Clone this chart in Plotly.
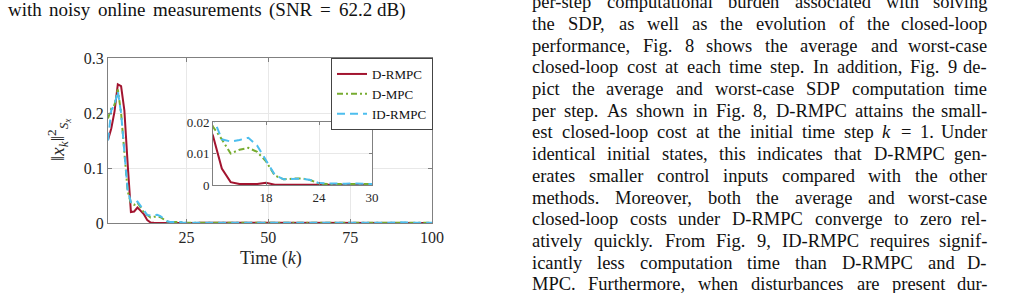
import re
import plotly.graph_objects as go

W, H = 1017, 293

# ---------------- data ----------------
time_k = list(range(1, 101))

d_rmpc = [0.151, 0.172, 0.203, 0.252, 0.249, 0.205, 0.108, 0.020, 0.021, 0.028,
          0.022, 0.0156, 0.0052, 0.0009, 0.0003, 0.0002, 0.0003, 0.0007, 0.0001, 0.0001,
          0.0001, 0.0001, 0.0002, 0.0003, 0.0003, 0.0002, 0.0002, 0.0002, 0.0003, 0.0003,
          0.0003, 0.0002, 0.0003, 0.0002, 0.0002, 0.0003, 0.0002, 0.0002, 0.0003, 0.0002,
          0.0002, 0.0003, 0.0002, 0.0002, 0.0002, 0.0003, 0.0002, 0.0002, 0.0003, 0.0002,
          0.0002, 0.0002, 0.0003, 0.0002, 0.0002, 0.0003, 0.0002, 0.0002, 0.0002, 0.0003,
          0.0002, 0.0002, 0.0003, 0.0002, 0.0002, 0.0002, 0.0003, 0.0002, 0.0002, 0.0003,
          0.0002, 0.0002, 0.0002, 0.0003, 0.0002, 0.0002, 0.0003, 0.0002, 0.0002, 0.0002,
          0.0003, 0.0002, 0.0002, 0.0003, 0.0002, 0.0002, 0.0002, 0.0003, 0.0002, 0.0002,
          0.0003, 0.0002, 0.0002, 0.0002, 0.0003, 0.0002, 0.0002, 0.0003, 0.0002, 0.0002]

d_mpc = [0.190, 0.208, 0.215, 0.243, 0.200, 0.130, 0.058, 0.036, 0.033, 0.037,
         0.028, 0.0185, 0.0145, 0.0100, 0.0112, 0.0118, 0.0105, 0.0075, 0.0030, 0.0018,
         0.0020, 0.0021, 0.0016, 0.0004, 0.0003, 0.0003, 0.0002, 0.0003, 0.0003, 0.0003,
         0.0003, 0.0004, 0.0003, 0.0003, 0.0004, 0.0003, 0.0003, 0.0004, 0.0003, 0.0003,
         0.0004, 0.0003, 0.0003, 0.0003, 0.0004, 0.0003, 0.0003, 0.0004, 0.0003, 0.0003,
         0.0003, 0.0004, 0.0003, 0.0003, 0.0004, 0.0003, 0.0003, 0.0003, 0.0004, 0.0003,
         0.0003, 0.0004, 0.0003, 0.0003, 0.0003, 0.0004, 0.0003, 0.0003, 0.0004, 0.0003,
         0.0003, 0.0003, 0.0004, 0.0003, 0.0003, 0.0004, 0.0003, 0.0003, 0.0003, 0.0004,
         0.0003, 0.0003, 0.0004, 0.0003, 0.0003, 0.0003, 0.0004, 0.0003, 0.0003, 0.0004,
         0.0003, 0.0003, 0.0003, 0.0004, 0.0003, 0.0003, 0.0004, 0.0003, 0.0003, 0.0003]

id_rmpc = [0.150, 0.205, 0.215, 0.240, 0.200, 0.135, 0.060, 0.038, 0.036, 0.039,
           0.030, 0.0215, 0.0145, 0.0138, 0.0143, 0.0150, 0.0125, 0.0080, 0.0032, 0.0018,
           0.0019, 0.0020, 0.0016, 0.0006, 0.0005, 0.0004, 0.0004, 0.0005, 0.0003, 0.0003,
           0.0004, 0.0005, 0.0004, 0.0004, 0.0005, 0.0004, 0.0004, 0.0005, 0.0004, 0.0004,
           0.0005, 0.0004, 0.0004, 0.0004, 0.0005, 0.0004, 0.0004, 0.0005, 0.0004, 0.0004,
           0.0004, 0.0005, 0.0004, 0.0004, 0.0005, 0.0004, 0.0004, 0.0004, 0.0005, 0.0004,
           0.0004, 0.0005, 0.0004, 0.0004, 0.0004, 0.0005, 0.0004, 0.0004, 0.0005, 0.0004,
           0.0004, 0.0004, 0.0005, 0.0004, 0.0004, 0.0005, 0.0004, 0.0004, 0.0004, 0.0005,
           0.0004, 0.0004, 0.0005, 0.0004, 0.0004, 0.0004, 0.0005, 0.0004, 0.0008, 0.0012,
           0.0008, 0.0004, 0.0004, 0.0005, 0.0004, 0.0004, 0.0005, 0.0004, 0.0004, 0.0004]

series_names = ["D-RMPC", "D-MPC", "ID-RMPC"]
main_xticks = [25, 50, 75, 100]
main_yticks = [0, 0.1, 0.2, 0.3]
main_yticklabels = ["0", "0.1", "0.2", "0.3"]
inset_xticks = [18, 24, 30]
inset_yticks = [0, 0.01, 0.02]
inset_yticklabels = ["0", "0.01", "0.02"]

caption_line = "with noisy online measurements (SNR = 62.2 dB)"
body_lines = [
    "per-step computational burden associated with solving",
    "the SDP, as well as the evolution of the closed-loop",
    "performance, Fig. 8 shows the average and worst-case",
    "closed-loop cost at each time step. In addition, Fig. 9 de-",
    "pict the average and worst-case SDP computation time",
    "per step. As shown in Fig. 8, D-RMPC attains the small-",
    "est closed-loop cost at the initial time step <i>k</i> = 1. Under",
    "identical initial states, this indicates that D-RMPC gen-",
    "erates smaller control inputs compared with the other",
    "methods. Moreover, both the average and worst-case",
    "closed-loop costs under D-RMPC converge to zero rel-",
    "atively quickly. From Fig. 9, ID-RMPC requires signif-",
    "icantly less computation time than D-RMPC and D-",
    "MPC. Furthermore, when disturbances are present dur-",
]

# ---------------- styles ----------------
SERIF = "Liberation Serif"
colors = ["#A2142F", "#77AC30", "#4DBEEE"]
dashes = ["solid", "6px,3px,2px,3px", "8px,5px"]
AXC = "#808080"
GRIDC = "#e8e8e8"
TXT = "#262626"


def px_x(px):
    return px / W


def px_y(py):
    return 1 - py / H


fig = go.Figure()
for vals, name, c, d in zip([d_rmpc, d_mpc, id_rmpc], series_names, colors, dashes):
    fig.add_trace(go.Scatter(x=time_k, y=vals, mode="lines", name=name,
                             line=dict(color=c, width=2, dash=d),
                             xaxis="x", yaxis="y"))
for vals, name, c, d in zip([d_rmpc, d_mpc, id_rmpc], series_names, colors, dashes):
    fig.add_trace(go.Scatter(x=time_k, y=vals, mode="lines", name=name,
                             line=dict(color=c, width=2, dash=d), showlegend=False,
                             xaxis="x2", yaxis="y2"))

axis_common = dict(showline=True, linecolor=AXC, linewidth=1, mirror="ticks",
                   showgrid=True, gridcolor=GRIDC, gridwidth=1, zeroline=False,
                   ticks="inside", ticklen=4, tickcolor=AXC,
                   tickfont=dict(family=SERIF, size=16, color=TXT))
inset_font = dict(family=SERIF, size=13, color=TXT)

fig.update_layout(
    width=W, height=H, margin=dict(l=0, r=0, t=0, b=0, autoexpand=False),
    paper_bgcolor="white", plot_bgcolor="white",
    font=dict(family=SERIF),
    showlegend=True,
    xaxis=dict(domain=[px_x(108), px_x(432)], range=[1, 100], tickvals=main_xticks,
               anchor="y", **axis_common),
    yaxis=dict(domain=[px_y(223), px_y(58)], range=[0, 0.3], tickvals=main_yticks,
               ticktext=main_yticklabels, anchor="x", **axis_common),
    xaxis2=dict(domain=[px_x(213), px_x(372)], range=[12, 30], tickvals=inset_xticks,
                anchor="y2", **{**axis_common, "tickfont": inset_font, "ticklen": 3}),
    yaxis2=dict(domain=[px_y(185), px_y(122)], range=[0, 0.02], tickvals=inset_yticks,
                ticktext=inset_yticklabels, anchor="x2",
                **{**axis_common, "tickfont": inset_font, "ticklen": 3}),
    legend=dict(x=px_x(433), y=px_y(58), xanchor="right", yanchor="top",
                bgcolor="white", bordercolor="#444444", borderwidth=1,
                font=dict(family=SERIF, size=13, color="#111111"),
                tracegroupgap=0, itemwidth=30),
)

annotations = []
# axis titles
annotations.append(dict(text="Time (<i>k</i>)", x=px_x(271), y=px_y(258), xref="paper", yref="paper",
                        xanchor="center", yanchor="middle", showarrow=False,
                        font=dict(family=SERIF, size=18, color=TXT)))
annotations.append(dict(text="‖<i>x<sub>k</sub></i>‖<sup>2</sup><sub><i>S<sub>x</sub></i></sub>",
                        x=px_x(58), y=px_y(140), xref="paper", yref="paper", textangle=-90,
                        xanchor="center", yanchor="middle", showarrow=False,
                        font=dict(family=SERIF, size=19, color=TXT)))

# Times / Liberation Serif advance widths (em)
TIMES = {
    'a': .444, 'b': .5, 'c': .444, 'd': .5, 'e': .444, 'f': .333, 'g': .5, 'h': .5, 'i': .278,
    'j': .278, 'k': .5, 'l': .278, 'm': .778, 'n': .5, 'o': .5, 'p': .5, 'q': .5, 'r': .333,
    's': .389, 't': .278, 'u': .5, 'v': .5, 'w': .722, 'x': .5, 'y': .5, 'z': .444,
    'A': .722, 'B': .667, 'C': .667, 'D': .722, 'E': .611, 'F': .556, 'G': .722, 'H': .722,
    'I': .333, 'J': .389, 'K': .722, 'L': .611, 'M': .889, 'N': .722, 'O': .722, 'P': .556,
    'Q': .722, 'R': .667, 'S': .556, 'T': .611, 'U': .722, 'V': .722, 'W': .944, 'X': .722,
    'Y': .722, 'Z': .611, '.': .25, ',': .25, '-': .333, '(': .333, ')': .333, '=': .564,
    ' ': .25, ':': .278, ';': .278,
}


def text_width(s, fs):
    s = re.sub(r"<[^>]+>", "", s)
    return sum(TIMES.get(ch, .5) for ch in s) * fs


def place_line(line, x0, x1, yc, fs):
    words = line.split(" ")
    widths = [text_width(w, fs) for w in words]
    gap = (x1 - x0 - sum(widths)) / (len(words) - 1)
    x = x0
    for i, (w, wd) in enumerate(zip(words, widths)):
        last = i == len(words) - 1
        annotations.append(dict(text=w, x=px_x(x1 if last else x), y=px_y(yc),
                                xref="paper", yref="paper",
                                xanchor="right" if last else "left", yanchor="middle",
                                showarrow=False, borderpad=0,
                                font=dict(family=SERIF, size=fs, color="#111111")))
        x += wd + gap


FS_BODY = 18.5
place_line(caption_line, 7, 407, 16 - 0.34 * 19, 19)
for i, line in enumerate(body_lines):
    baseline = 8.5 + 21.7 * i
    place_line(line, 531, 988, baseline - 0.34 * FS_BODY, FS_BODY)

fig.update_layout(annotations=annotations)
fig.write_html(
    "out.html",
    post_script="document.body.style.margin='0';document.body.style.padding='0';"
                "document.body.style.overflow='hidden';"
                "document.documentElement.style.overflow='hidden';",
)
